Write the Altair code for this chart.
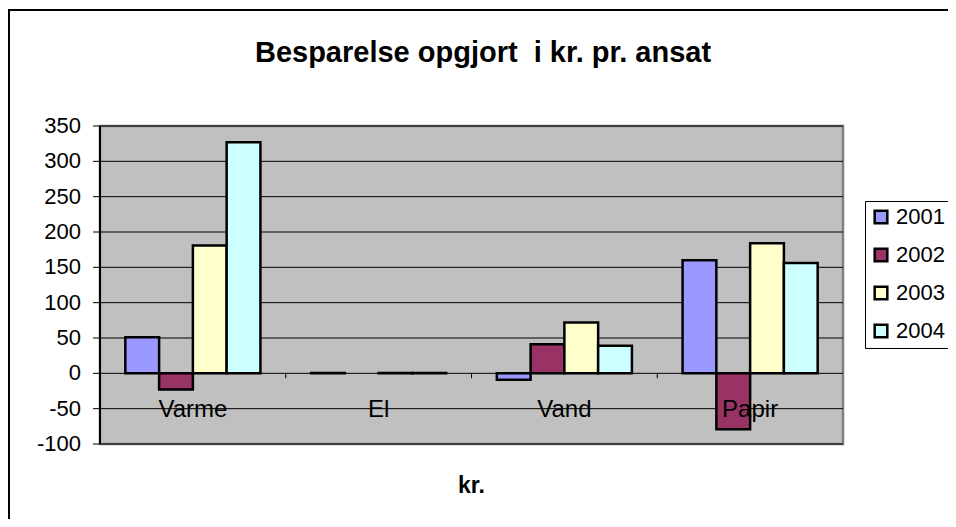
import altair as alt
import pandas as pd

title_text = "Besparelse opgjort\u00a0 i kr. pr. ansat"
x_title = "kr."
categories = ["Varme", "El", "Vand", "Papir"]
years = ["2001", "2002", "2003", "2004"]
values_2001 = [51, 0.5, -9, 160]
values_2002 = [-23, None, 41, -79]
values_2003 = [181, 0.5, 72, 184]
values_2004 = [327, 0.5, 39, 156]
y_ticks = [-100, -50, 0, 50, 100, 150, 200, 250, 300, 350]
colors = ["#9999FF", "#993366", "#FFFFCC", "#CCFFFF"]

series = {"2001": values_2001, "2002": values_2002, "2003": values_2003, "2004": values_2004}
rows = []
for y in years:
    for c, v in zip(categories, series[y]):
        if v is not None:
            rows.append({"Kategori": c, "År": y, "Værdi": v})
df = pd.DataFrame(rows)
labels_df = pd.DataFrame({"Kategori": categories})
ticks_df = pd.DataFrame({"v": y_ticks, "lab": [str(t) for t in y_ticks]})

W, H = 743, 318
FONT = "Liberation Sans"

x_scale = alt.Scale(domain=categories, paddingInner=0, paddingOuter=0)
y_scale = alt.Scale(domain=[-100, 350], nice=False, zero=False)

bars = alt.Chart(df).mark_bar(stroke="black", strokeWidth=2.5).encode(
    x=alt.X("Kategori:N", scale=x_scale, sort=categories, axis=None),
    xOffset=alt.XOffset("År:N", sort=years, scale=alt.Scale(paddingInner=0, paddingOuter=0.75)),
    y=alt.Y("Værdi:Q", scale=y_scale, axis=None),
    color=alt.Color("År:N", sort=years, scale=alt.Scale(domain=years, range=colors),
                    legend=alt.Legend(title=None, orient="none", legendX=765, legendY=75,
                                      symbolType="square", symbolSize=160,
                                      symbolStrokeColor="black", symbolStrokeWidth=2.5,
                                      labelFont=FONT, labelFontSize=22, labelColor="black",
                                      labelOffset=4, rowPadding=14, padding=5,
                                      strokeColor="black", fillColor="white")),
)

grid = alt.Chart(ticks_df).mark_rule(color="black", strokeWidth=1).encode(
    y=alt.Y("v:Q", scale=y_scale, axis=None),
    x=alt.value(0), x2=alt.value(W),
)

y_tick_marks = alt.Chart(ticks_df).mark_rule(color="black", strokeWidth=1).encode(
    y=alt.Y("v:Q", scale=y_scale, axis=None),
    x=alt.value(-7), x2=alt.value(0),
)

y_labels = alt.Chart(ticks_df).mark_text(
    font=FONT, fontSize=22, color="black", align="right", baseline="middle"
).encode(
    y=alt.Y("v:Q", scale=y_scale, axis=None),
    x=alt.value(-19),
    text="lab:N",
)

y_domain = alt.Chart(ticks_df).mark_rule(color="black", strokeWidth=1.5).encode(
    x=alt.value(0), y=alt.value(0), y2=alt.value(H),
)

cat_labels = alt.Chart(labels_df).mark_text(
    font=FONT, fontSize=24, color="black", baseline="alphabetic", dy=44
).encode(
    x=alt.X("Kategori:N", scale=x_scale, sort=categories, axis=None),
    y=alt.YDatum(0, axis=None),
    text="Kategori:N",
)

x_ticks = alt.Chart(labels_df).mark_rule(color="black", strokeWidth=1).encode(
    x=alt.X("Kategori:N", scale=x_scale, sort=categories, axis=None, bandPosition=0),
    y=alt.YDatum(0, axis=None),
    y2=alt.Y2Datum(-7),
)

frame = alt.Chart(alt.Data(values=[{}])).mark_rect(
    filled=False, stroke="black", strokeWidth=2
).encode(
    x=alt.value(-91), y=alt.value(-116), x2=alt.value(3000), y2=alt.value(3000)
)

title = alt.Chart(alt.Data(values=[{}])).mark_text(
    text=title_text, font=FONT, fontSize=29, fontWeight="bold", color="black",
    baseline="alphabetic", align="center"
).encode(x=alt.value(W / 2 + 11.5), y=alt.value(-64))

xtitle = alt.Chart(alt.Data(values=[{}])).mark_text(
    text=x_title, font=FONT, fontSize=23, fontWeight="bold", color="black",
    baseline="alphabetic", align="center"
).encode(x=alt.value(W / 2), y=alt.value(367))

chart = alt.layer(
    frame, grid, bars, x_ticks, cat_labels, y_domain, y_tick_marks, y_labels, title, xtitle
).properties(
    width=W, height=H,
    autosize=alt.AutoSizeParams(type="none"),
    padding={"left": 92, "top": 118, "right": 105, "bottom": 75},
    background="white",
).configure_view(
    fill="#C0C0C0", stroke="#808080", strokeWidth=2.5
)

chart.save("out.html", embed_options={"renderer": "svg", "actions": False})
